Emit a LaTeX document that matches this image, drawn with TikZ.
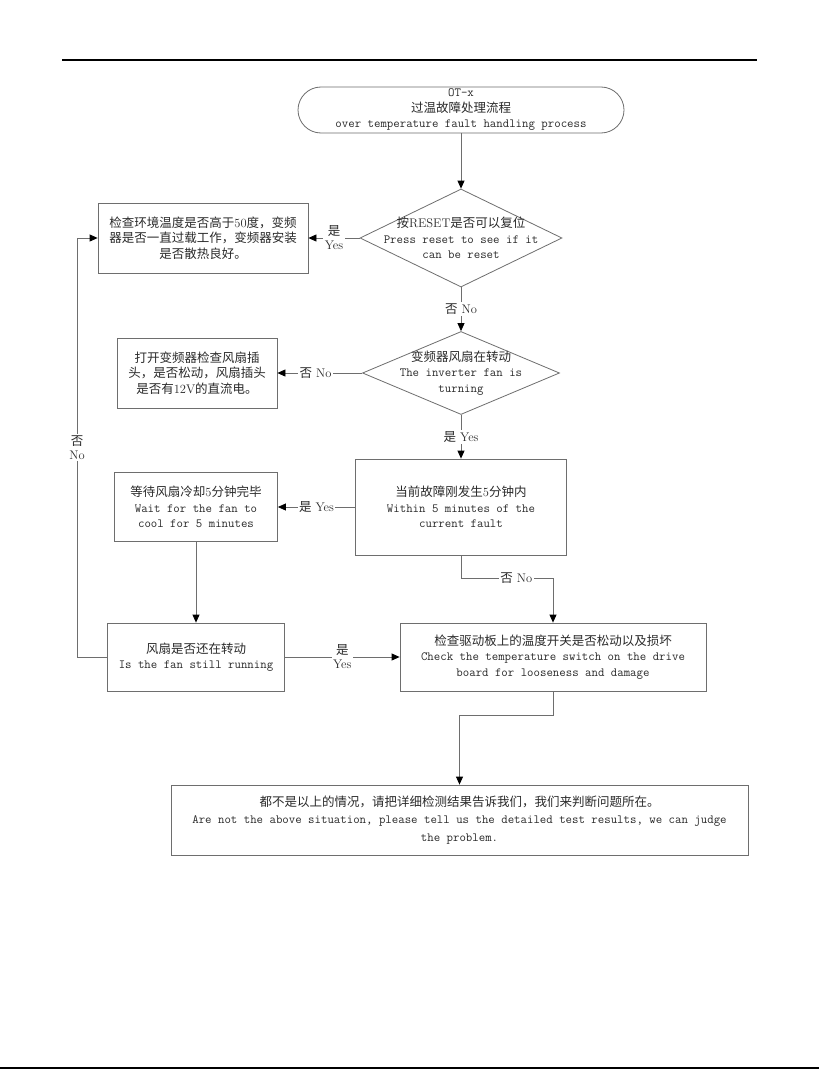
\documentclass[tikz,border=0pt]{standalone}
\usepackage{fontspec}
\newfontfamily\cjk{Noto Sans CJK SC}
\usetikzlibrary{shapes.geometric,arrows.meta}
\definecolor{lc}{HTML}{6E6E6E}
\definecolor{tc}{HTML}{2A2A2A}
\newcommand\lat[1]{{\rmfamily #1}}
\begin{document}
\begin{tikzpicture}[x=1pt,y=-1pt,
  font=\fontsize{12.5}{15.5}\selectfont\ttfamily,
  box/.style={draw=lc, line width=0.8pt, rectangle, inner sep=0pt, align=center, text=tc},
  dia/.style={draw=lc, line width=0.8pt, diamond, inner sep=0pt},
  txt/.style={align=center, text=tc, inner sep=0pt},
  conn/.style={draw=lc, line width=0.8pt},
  arr/.style={conn, -{Triangle[length=8pt,width=7pt,color=black]}},
  lab/.style={fill=white, inner sep=1.5pt, align=center, text=tc, font=\fontsize{12.5}{14}\selectfont\rmfamily},
]
\useasboundingbox (0,0) rectangle (819,1070);
\fill[white] (0,0) rectangle (819,1070);
% page rules
\draw[line width=2pt] (62,60) -- (757,60);
\draw[line width=2pt] (0,1068) -- (819,1068);

% nodes
\node[box, rounded corners=23pt, minimum width=326pt, minimum height=46pt] (start) at (461,110)
  {OT-x\\{\cjk 过温故障处理流程}\\over temperature fault handling process};

\node[dia, minimum width=202pt, minimum height=98pt] (d1) at (461,238) {};
\node[txt] (d1t) at (d1.center) {{\cjk 按\lat{RESET}是否可以复位}\\Press reset to see if it\\can be reset};

\node[box, minimum width=210pt, minimum height=70pt] (b1) at (203,238)
  {{\cjk 检查环境温度是否高于\lat{50}度，变频}\\{\cjk 器是否一直过载工作，变频器安装}\\{\cjk 是否散热良好。}};

\node[dia, minimum width=197pt, minimum height=83pt] (d2) at (461,373) {};
\node[txt] (d2t) at (d2.center) {{\cjk 变频器风扇在转动}\\The inverter fan is\\turning};

\node[box, minimum width=160pt, minimum height=70pt] (b2) at (197,373)
  {{\cjk 打开变频器检查风扇插}\\{\cjk 头，是否松动，风扇插头}\\{\cjk 是否有\lat{12V}的直流电。}};

\node[box, minimum width=211pt, minimum height=96pt] (b3) at (461,507)
  {{\cjk 当前故障刚发生\lat{5}分钟内}\\Within 5 minutes of the\\current fault};

\node[box, minimum width=163pt, minimum height=69pt] (b4) at (196,507)
  {{\cjk 等待风扇冷却\lat{5}分钟完毕}\\Wait for the fan to\\cool for 5 minutes};

\node[box, minimum width=177pt, minimum height=68pt] (b6) at (196,657)
  {{\cjk 风扇是否还在转动}\\Is the fan still running};

\node[box, minimum width=306pt, minimum height=68pt] (b5) at (553,657)
  {{\cjk 检查驱动板上的温度开关是否松动以及损坏}\\Check the temperature switch on the drive\\board for looseness and damage};

\node[box, minimum width=577pt, minimum height=70pt, font=\fontsize{12.5}{17.5}\selectfont\ttfamily] (b7) at (459.5,820)
  {{\cjk 都不是以上的情况，请把详细检测结果告诉我们，我们来判断问题所在。}\\Are not the above situation, please tell us the detailed test results, we can judge\\the problem.};

% bend points
\coordinate (k1) at (461,578);
\coordinate (k2) at (553,578);
\coordinate (k3) at (77,657);
\coordinate (k4) at (77,238);
\coordinate (k5) at (553,715);
\coordinate (k6) at (b7.north |- k5);

% connectors
\draw[arr] (start.south) -- (d1.north);
\draw[arr] (d1.west) -- node[lab] {{\cjk 是}\\Yes} (b1.east);
\draw[arr] (d1.south) -- node[lab] {{\cjk 否} No} (d2.north);
\draw[arr] (d2.west) -- node[lab, pos=0.55] {{\cjk 否} No} (b2.east);
\draw[arr] (d2.south) -- node[lab] {{\cjk 是} Yes} (b3.north);
\draw[arr] (b3.west) -- node[lab] {{\cjk 是} Yes} (b4.east);
\draw[arr] (b3.south) -- (k1) -- node[lab, pos=0.6] {{\cjk 否} No} (k2) -- (b5.north);
\draw[arr] (b4.south) -- (b6.north);
\draw[arr] (b6.east) -- node[lab] {{\cjk 是}\\Yes} (b5.west);
\draw[arr] (b6.west) -- (k3) -- node[lab] {{\cjk 否}\\No} (k4) -- (b1.west);
\draw[arr] (b5.south) -- (k5) -- (k6) -- (b7.north);
\end{tikzpicture}
\end{document}
